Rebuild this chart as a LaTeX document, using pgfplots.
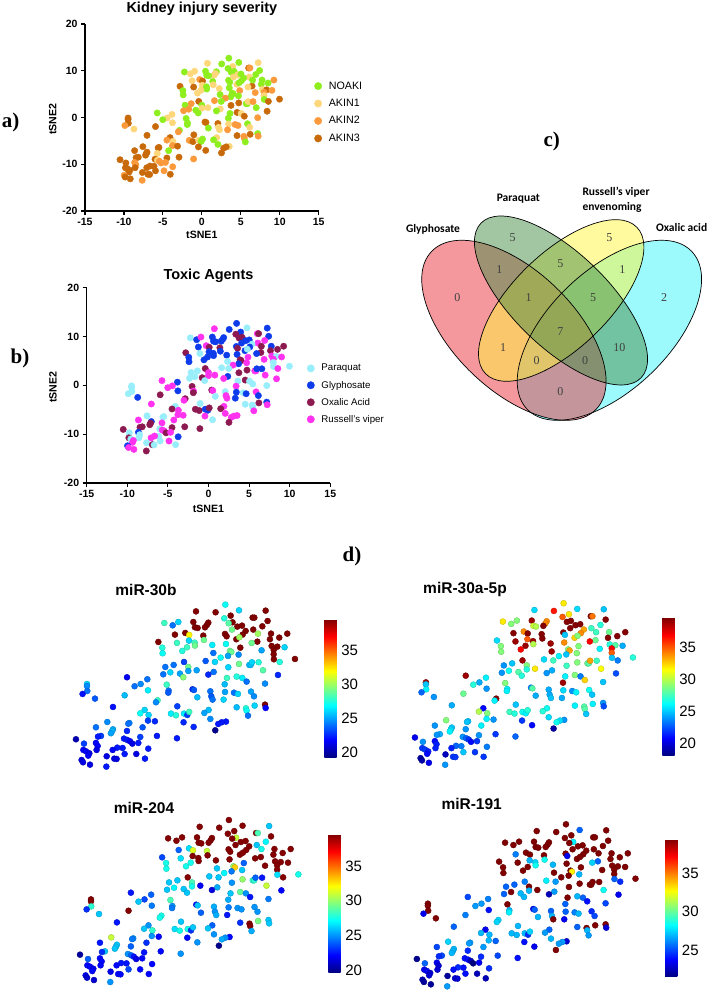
\documentclass[border=0pt]{standalone}
\usepackage{fontspec}
\usepackage{pgfplots}
\usepackage{pgfplotstable}
\pgfplotsset{compat=1.18}
\setmainfont{Liberation Sans}
\newfontfamily\tnr{Liberation Serif}
\newfontfamily\calibri{Carlito}
\definecolor{noaki}{RGB}{142,238,30}
\definecolor{akinone}{RGB}{253,215,122}
\definecolor{akintwo}{RGB}{251,154,60}
\definecolor{akinthree}{RGB}{200,106,10}
\definecolor{paraquat}{RGB}{152,238,250}
\definecolor{glypho}{RGB}{15,60,235}
\definecolor{oxalic}{RGB}{140,25,80}
\definecolor{russell}{RGB}{255,50,240}
\definecolor{vred}{RGB}{235,50,60}
\definecolor{vcyan}{RGB}{60,245,250}
\definecolor{vyellow}{RGB}{255,245,60}
\definecolor{vgreen}{RGB}{70,140,70}
% x y, kidney class, toxic agent class, then the four miRNA levels
\pgfplotstableread{
x y ak tox b30 a30 m204 m191
0.72 11.6 1 3 39.5 25.5 39.5 39.5
2.55 11.45 0 1 39.5 36.5 39.5 39.5
7.23 11.72 1 1 39.5 25 26 39.5
3.96 10.91 1 1 39.5 32 39.5 39.5
6.01 10.59 3 3 39.5 39.5 39.5 39.5
6.17 10.59 2 2 39.5 34.5 28.5 39.5
7.41 10.05 0 1 39.5 39.5 39.5 39.5
4.14 9.84 0 2 39.5 39.5 31 28
0.47 9.89 0 1 39.5 39 39.5 39.5
1.87 9.78 0 1 39.5 34 39.5 39.5
1.74 9.41 1 1 39.5 34 39.5 39.5
1.56 9.03 1 1 39.5 39.5 39.5 39.5
0.62 9.03 0 1 39.5 30.5 39.5 39.5
0.87 8.92 0 1 39.5 30 39.5 39.5
4.58 9.14 1 1 39.5 39.5 39.5 39.5
5.02 9.3 0 1 39.5 39.5 39.5 39.5
6.07 8.66 1 3 39.5 27.5 26 39.5
6.92 9.19 0 3 39.5 27 27 39.5
5.36 8.44 0 0 39.5 33.5 39.5 39.5
5.08 7.85 0 1 39.5 34 39.5 39.5
-1.25 7.85 1 1 39.5 39.5 24 26
-0.28 8.12 2 3 39.5 34 26.5 39.5
1.4 7.69 0 2 39.5 39.5 31 39.5
3.43 7.96 0 1 39.5 39.5 39.5 39.5
3.58 7.58 0 2 39.5 25 39.5 23.5
7.73 8.01 0 1 39.5 28.5 39.5 39.5
9.25 8.01 2 2 39.5 39.5 39.5 39.5
7.63 7.1 0 2 39.5 39.5 39.5 39.5
8.5 7.37 0 2 39.5 39.5 39.5 39.5
4.49 7.1 1 1 39.5 32.5 39.5 39.5
6.45 6.72 3 2 39.5 28.5 39.5 25.5
-2.8 6.67 3 2 39.5 25.5 23.5 39.5
4.86 5.75 2 3 39.5 29 24 39.5
7.79 6.02 1 3 39.5 27 39.5 39.5
8.32 5.91 3 0 39.5 28 39.5 39.5
7.98 5.38 2 3 39.5 37 39.5 39.5
7.98 4.68 1 0 39.5 35 39.5 39.5
8 3.87 0 0 39.5 25 26.5 25.5
9.97 3.92 3 0 39.5 27 27.5 39.5
7.17 -3.44 0 1 39.5 24 26 39.5
3.46 12.69 0 1 27 32 39.5 39.5
4.74 11.77 0 0 26 25.5 39.5 25.5
-2.24 9.73 0 0 28 32 39.5 39.5
-1.46 9.35 1 1 24 29 39.5 39.5
-0.93 9.89 1 3 26 29 39.5 39.5
3.36 10.48 0 2 27.5 35 39.5 39.5
3.77 9.68 0 2 28.5 39.5 39.5 39.5
4.08 8.66 1 1 29 39.5 39.5 39.5
6.51 8.01 0 2 30 27.5 27.5 39.5
0.09 7.8 3 2 32 39.5 31.5 39.5
4.77 7.42 0 0 30 29 39.5 39.5
0.06 6.88 1 1 26 35 39.5 27
1.46 6.99 1 1 29 39.5 39.5 28.5
-1.06 6.51 3 0 28 39 26.5 39.5
0.59 6.56 0 1 28 39 39.5 27.5
0.62 6.08 0 1 29 30 39.5 28.5
-0.12 5.81 1 1 28 39 27.5 39.5
-0.56 5.22 1 1 27.5 37 27.5 39.5
-2.43 5.75 0 1 27.5 29 27.5 39.5
-2.4 4.84 0 1 27 29 27.5 39.5
2.24 6.18 1 1 26.5 39 39.5 27
3.52 6.34 0 1 27 34 39.5 39.5
5.92 6.51 1 1 29 37 39.5 27.5
6.85 5.32 2 3 25 26 39.5 39.5
9 5.81 2 3 26 24.5 39.5 39.5
3.89 5.22 0 2 29 29 30 39.5
4.02 5.05 0 2 29 33.5 33 33
2.34 4.89 0 0 24 39 26 39.5
4.7 4.62 0 3 24.5 29 26 27
3.71 4.41 0 1 25 25 24.5 39.5
3.02 4.14 2 3 27 26 27 39.5
1.62 3.6 2 0 23.5 25.5 26 28
2.49 3.44 0 0 26 27.5 26 26.5
-0.4 3.44 3 2 23 39 39.5 26
-2.15 2.63 0 0 24 24 26 25.5
-1.37 2.96 2 0 24 25 26 25.5
0 2.63 0 3 29 29 28.5 39.5
0 1.99 1 3 25 27 27.5 27
3.74 2.58 3 2 26 27.5 25 39.5
4.74 3.12 3 2 29 29 30 39.5
5.7 2.96 0 3 25.5 28.5 28 39.5
5.83 2.96 0 3 25.5 28 28 39.5
5.95 3.39 1 1 26 33.5 24 39.5
6.57 3.39 2 1 27.5 27.5 22.5 39.5
6.98 2.1 0 3 28.5 31.5 31 28.5
8.54 3.44 3 3 27.5 23.5 39.5 24.5
-1.68 1.77 2 0 26 26.5 27 39.5
-2.34 1.45 2 0 24 24 26 25.5
-0.78 1.56 0 2 25 28 26 27
0.78 2.1 1 3 25 32 22 39.5
2.37 1.83 1 1 24 24.5 25.5 26.5
1.87 1.4 0 3 22.5 24 21.5 22.5
8.38 1.34 3 3 22.5 22.5 22 23.5
-0.47 0.97 0 0 29.5 27 26 27
3.61 0.86 0 0 28 26 26 39.5
4.52 1.08 3 2 27.5 29 29 27
5.05 0.86 1 0 26.5 23.5 25 25.5
5.45 0.27 3 0 24 32.5 22.5 24
7.17 -0.05 2 0 24.5 25 24.5 25
-5.73 0.97 0 3 21.5 39 22.5 25
-3.83 0.65 1 1 24 26 24 26
-4.45 -0.11 1 3 24.5 24.5 23.5 26.5
-5.02 -0.48 0 3 24 27 26 26.5
-3.77 -1.13 1 1 26.5 24 24.5 24
-2.02 -0.22 0 2 28 29 28.5 39.5
3.4 -0.16 0 3 25.5 39 25.5 25.5
-1.84 -1.18 0 3 24 26 25 27
-1.87 -1.51 0 2 23.5 26 24.5 28
0.4 -0.97 3 2 22.5 23.5 22.2 23.5
0.53 -1.08 3 3 23.5 28 26 25.5
2.06 -1.29 3 0 24 24.5 25.5 25.5
3.43 -1.4 1 1 25 25.5 24.5 25.5
4.27 -1.51 2 0 24 24 25 26
4.64 -1.72 2 1 26 26 25 27
5.86 -1.34 0 3 25 26.5 25 24.5
6.14 -2.1 1 1 24.5 25 25 25
2.15 -2.1 1 3 23.5 24.5 25 27
2.27 -2.63 1 3 24 25 25.5 39.5
0.84 -2.26 0 0 25.5 24.5 24 27
3.3 -2.63 2 1 26 24.5 22.5 23.5
-2.87 -2.74 0 2 28 39.5 27.5 27.5
-3.02 -3.06 2 3 24.5 26 27.5 27.5
-5.95 -1.94 3 2 25.5 28.5 39.5 26
-9.47 -0.11 3 0 26 39 39.5 39.5
-9.47 -0.43 3 0 24.5 25 39.5 39.5
-9.44 -1.24 3 0 24 26 28 39.5
-9.88 -1.72 2 0 22 23 23 23.5
-8.72 -2.47 1 1 23.5 24 26 39.5
-7.04 -3.82 3 3 22 24.5 22.5 25.5
-1.03 -3.71 3 0 23 25 26 27
4.52 -3.87 3 0 25.5 26 23 25.5
6.2 -3.6 3 2 26 26 29.5 39.5
5.39 -4.03 2 0 27.5 28 39.5 39.5
5.45 -4.41 2 0 27 28 39.5 27
7.23 -3.98 2 3 21.7 22.5 26 23
-4.08 -4.3 3 0 26 21 25 23.5
1.9 -4.3 1 3 25.5 26.5 24 25.5
1.5 -4.78 0 2 25 27 26 26.5
-4.49 -4.84 2 2 27 30 26 27
-3.71 -5.11 1 3 26 29 28 27
-1.62 -4.89 2 2 26.5 27.5 26.5 27
-1.15 -5.16 3 2 27.5 27 27.5 27
-0.4 -4.89 1 1 26.5 26.5 27.5 27
-0.09 -5.11 0 1 23 26 23 24.5
0.09 -4.62 0 2 28 27 26 27.5
2.06 -5.75 0 3 24.5 25.5 25 27
5.58 -5.22 0 3 24 25 25.5 26.5
-3.77 -6.02 2 3 23 26 25 27
-3.12 -6.13 3 3 22.5 24 22.2 25.5
-0.44 -6.29 3 3 22.5 22 22.2 24
-7.57 -6.24 3 0 24.5 29 31 27.5
-5.51 -6.4 3 0 24.5 25 25 26.5
-5.61 -6.51 3 0 24 25 24.5 26.5
3.52 -6.18 1 3 22.2 24 22.2 23
3.12 -6.29 3 3 22.2 25.5 25 26.5
2.8 -6.56 3 3 22.2 26.5 25.5 26.5
-8.63 -7.1 3 3 24 24 22.5 25
0.5 -7.04 3 0 22.5 21 25 23.5
-4.27 -7.1 0 3 23.5 26 23 26.5
-7.04 -7.42 3 1 25 25 26 27
-7.13 -7.74 3 2 25.5 25.5 26 27
-7.23 -8.06 3 2 25 26 26 27
-5.73 -7.69 1 3 22.5 24 24 24.5
2.52 -7.58 3 2 19.5 19 19.8 39.5
-8.16 -8.49 3 2 23 24.5 26 25
-8.44 -8.6 3 2 22.2 24 23 24.5
-4.49 -8.66 3 2 23 24 22.5 24.5
-2.93 -8.49 3 2 22.2 22 22.2 25
-6.01 -8.92 3 0 22.2 24 25 24
-5.7 -9.14 1 3 22.2 23 24 24
-5.45 -9.35 2 3 21.7 22 22.5 22.5
-5.23 -9.73 2 2 21.2 21 21.7 21.5
-4.67 -9.62 2 3 22.2 22 22.2 23.5
-1.06 -8.87 2 2 22.2 23 25 24
-10.5 -9.03 3 2 20.2 20.5 20.2 21.8
-9.75 -9.73 3 0 23 24 24 25.5
-8.63 -9.62 2 1 21.7 21 22.2 23.5
-8.47 -10.11 2 0 21.7 21.5 22.2 23
-6.14 -10.43 3 0 22.2 23.5 22.5 24
-6.64 -10.38 3 3 22.2 23 22.5 24.5
-7.07 -10.75 3 3 21.7 21.5 22.2 24
-3.74 -10.54 2 1 22.2 23.5 22.2 24.5
-8.57 -10.75 3 0 21.2 21.5 22.2 23
-9.81 -10.75 3 2 21.7 22 22.2 23.5
-9.56 -10.97 3 0 21.7 22 22.2 23.5
-9.25 -11.29 3 3 21.2 21.5 21.7 23
-9.35 -11.67 3 3 21.7 21 22.2 23
-5.95 -11.4 3 0 22.2 25 23.5 24
-4.86 -11.4 2 3 21.2 22 22.2 22.5
-7.63 -11.77 3 0 21.2 19.5 21.7 22
-6.92 -12.15 3 2 21.2 22 22.2 23
-6.7 -12.2 3 0 21.2 22 22.2 23
-4.05 -12.15 3 0 22.2 22 22.2 22.5
-9.97 -12.37 2 1 21.2 19 21.7 22.5
-9.84 -12.74 3 3 21.2 19 21.2 22
-9.19 -13.12 3 3 21.2 20.5 21.2 22
-7.66 -13.44 2 2 22.2 24 25 26.5
}\tsne
% Venn counts, placed in page pixels
\pgfplotstableread{
vx vy n
457.3 694.3 0
512.7 754.3 5
499.3 722.3 1
560.3 728.7 5
609.3 754.3 5
622.3 722.3 1
664 694.3 2
528.7 694.3 1
593 694.3 5
560.3 660.3 7
503 644.3 1
619.3 644.3 10
536.7 631.7 0
585 631.7 0
560.3 600.3 0
}\venn
\pgfplotsset{
  tsneaxis/.style={
    scale only axis, clip=false,
    xmin=-15, xmax=15, ymin=-20, ymax=20,
    xtick={-15,-10,-5,0,5,10,15}, ytick={-20,-10,0,10,20},
    axis x line=bottom, axis y line=left,
    axis line style={-, line width=1.3pt},
    tick align=outside, major tick length=4pt,
    tick style={black, line width=1.1pt},
    /pgf/number format/assume math mode=true,
    tick label style={font=\bfseries\fontsize{10.5}{12}\selectfont},
    xlabel={tSNE1}, ylabel={tSNE2},
    every axis title shift=0pt,
    every axis y label/.style={at={(axis description cs:-0.138,0.49)},rotate=90,anchor=center,
      font=\bfseries\fontsize{10.6}{12}\selectfont},
    legend cell align=left,
    legend image post style={scale=1.15},
  },
  heataxis/.style={
    scale only axis, hide axis, clip=false,
    xmin=-15, xmax=15, ymin=-20, ymax=20,
    colormap/jet, colorbar,
  },
  barstyle/.style={
    scale only axis, width=12.4pt,
    at={(parent axis.south west)}, anchor=south west,
    ytick style={draw=none}, major tick length=0pt,
    axis line style={draw=none},
    /pgf/number format/assume math mode=true,
    yticklabel style={font=\fontsize{15}{16}\selectfont, xshift=1pt},
  },
  heatmark/.style={scatter, only marks, mark=*, mark size=3pt, scatter src=explicit},
}
\begin{document}
\begin{tikzpicture}[x=1pt,y=1pt]
\useasboundingbox (0,0) rectangle (708,992);

% a) kidney injury
\begin{axis}[tsneaxis, at={(85pt,781pt)}, width=233.7pt, height=187pt,
  title={Kidney injury severity},
  title style={at={(0.5,1.08)},anchor=center,font=\bfseries\fontsize{14.5}{16}\selectfont},
  every axis x label/.style={at={(axis description cs:0.5,-0.128)},anchor=center,
    font=\bfseries\fontsize{10.6}{12}\selectfont},
  legend style={at={(0.981,0.528)},anchor=west,draw=none,fill=none,inner sep=0pt,
    font=\fontsize{10.7}{12}\selectfont,row sep=4.5pt,
    /tikz/every odd column/.append style={column sep=5pt}},
  scatter/classes={
    0={mark=*,mark size=3.2pt,draw=noaki,fill=noaki},
    1={mark=*,mark size=3.2pt,draw=akinone,fill=akinone},
    2={mark=*,mark size=3.2pt,draw=akintwo,fill=akintwo},
    3={mark=*,mark size=3.2pt,draw=akinthree,fill=akinthree}},
]
\addplot[scatter, only marks, scatter src=explicit symbolic] table[x=x,y=y,meta=ak] {\tsne};
\legend{NOAKI,AKIN1,AKIN2,AKIN3}
\end{axis}

% b) toxic agents
\begin{axis}[tsneaxis, at={(86.7pt,509pt)}, width=243.6pt, height=195.3pt,
  title={Toxic Agents},
  title style={at={(0.5,1.06)},anchor=center,font=\bfseries\fontsize{14.5}{16}\selectfont},
  every axis x label/.style={at={(axis description cs:0.5,-0.133)},anchor=center,
    font=\bfseries\fontsize{10.6}{12}\selectfont},
  legend style={at={(0.904,0.456)},anchor=west,draw=none,fill=none,inner sep=0pt,
    font=\fontsize{9.7}{11}\selectfont,row sep=4.5pt,
    /tikz/every odd column/.append style={column sep=5pt}},
  scatter/classes={
    0={mark=*,mark size=3.2pt,draw=paraquat,fill=paraquat},
    1={mark=*,mark size=3.2pt,draw=glypho,fill=glypho},
    2={mark=*,mark size=3.2pt,draw=oxalic,fill=oxalic},
    3={mark=*,mark size=3.2pt,draw=russell,fill=russell}},
]
\addplot[scatter, only marks, scatter src=explicit symbolic] table[x=x,y=y,meta=tox] {\tsne};
\legend{Paraquat,Glyphosate,Oxalic Acid,Russell's viper}
\end{axis}

% c) venn, axis units are page pixels
\begin{axis}[hide axis, scale only axis, clip=false, at={(370pt,492pt)}, width=338pt, height=400pt,
  xmin=370, xmax=708, ymin=492, ymax=892]
\fill[vcyan, opacity=0.5, rotate around={43.8:(axis cs:609.4,661.7)}] (axis cs:609.4,661.7) ellipse [x radius=114pt, y radius=60pt];
\fill[vred, opacity=0.5, rotate around={-43.8:(axis cs:513.9,661.7)}] (axis cs:513.9,661.7) ellipse [x radius=114pt, y radius=60pt];
\fill[vyellow, opacity=0.5, rotate around={44:(axis cs:561.2,691.5)}] (axis cs:561.2,691.5) ellipse [x radius=105.3pt, y radius=47.7pt];
\fill[vgreen, opacity=0.5, rotate around={-44:(axis cs:561,691.5)}] (axis cs:561,691.5) ellipse [x radius=111.3pt, y radius=47.3pt];
\draw[black, line width=0.7pt, rotate around={43.8:(axis cs:609.4,661.7)}] (axis cs:609.4,661.7) ellipse [x radius=114pt, y radius=60pt];
\draw[black, line width=0.7pt, rotate around={-43.8:(axis cs:513.9,661.7)}] (axis cs:513.9,661.7) ellipse [x radius=114pt, y radius=60pt];
\draw[black, line width=0.7pt, rotate around={44:(axis cs:561.2,691.5)}] (axis cs:561.2,691.5) ellipse [x radius=105.3pt, y radius=47.7pt];
\draw[black, line width=0.7pt, rotate around={-44:(axis cs:561,691.5)}] (axis cs:561,691.5) ellipse [x radius=111.3pt, y radius=47.3pt];
\addplot[only marks, mark=none, point meta=explicit symbolic,
  nodes near coords, nodes near coords align=center,
  every node near coord/.append style={font=\tnr\fontsize{12}{13}\selectfont, text=black!75, anchor=center, inner sep=0pt}]
  table[x=vx,y=vy,meta=n] {\venn};
\end{axis}

% d) miRNA levels
\begin{axis}[heataxis, at={(27.8pt,184.7pt)}, width=321pt, height=248pt,
  point meta min=19.2, point meta max=39.5,
  colorbar style={barstyle, height=138pt, ytick={20,25,30,35}, xshift=288pt, yshift=50pt}]
\addplot[heatmark] table[x=x,y=y,meta=b30] {\tsne};
\end{axis}
\begin{axis}[heataxis, at={(367pt,186.7pt)}, width=319.5pt, height=247.2pt,
  point meta min=18.2, point meta max=39.6,
  colorbar style={barstyle, height=137.3pt, ytick={20,25,30,35}, xshift=286.8pt, yshift=50pt}]
\addplot[heatmark] table[x=x,y=y,meta=a30] {\tsne};
\end{axis}
\begin{axis}[heataxis, at={(32pt,-30.7pt)}, width=320pt, height=248pt,
  point meta min=19.6, point meta max=39.6,
  colorbar style={barstyle, height=138.4pt, ytick={20,25,30,35}, xshift=287.8pt, yshift=50pt}]
\addplot[heatmark] table[x=x,y=y,meta=m204] {\tsne};
\end{axis}
\begin{axis}[heataxis, at={(368.8pt,-35pt)}, width=320.4pt, height=248pt,
  point meta min=21.5, point meta max=39.5,
  colorbar style={barstyle, height=138pt, ytick={25,30,35}, xshift=287.7pt, yshift=50pt}]
\addplot[heatmark] table[x=x,y=y,meta=m191] {\tsne};
\end{axis}

% panel letters and titles
\begin{scope}[every node/.style={inner sep=0pt}]
\node[font=\tnr\bfseries\fontsize{21}{23}\selectfont] at (10.5,992-122) {a)};
\node[font=\tnr\bfseries\fontsize{21}{23}\selectfont] at (20,992-358) {b)};
\node[font=\tnr\bfseries\fontsize{21}{23}\selectfont] at (551.7,992-141.7) {c)};
\node[font=\tnr\bfseries\fontsize{21}{23}\selectfont] at (352,992-556) {d)};
\node[font=\calibri\bfseries\fontsize{11.5}{13}\selectfont] at (433,992-229.3) {Glyphosate};
\node[font=\calibri\bfseries\fontsize{11.5}{13}\selectfont] at (518.3,992-198.3) {Paraquat};
\node[font=\calibri\bfseries\fontsize{11.5}{15}\selectfont,align=left,anchor=west] at (582.3,992-199.5) {Russell’s viper\\envenoming};
\node[font=\calibri\bfseries\fontsize{11.5}{13}\selectfont] at (681.7,992-227.3) {Oxalic acid};
\node[font=\bfseries\fontsize{15.5}{17}\selectfont] at (146,992-590) {miR-30b};
\node[font=\bfseries\fontsize{15.5}{17}\selectfont] at (465,992-589.3) {miR-30a-5p};
\node[font=\bfseries\fontsize{15.5}{17}\selectfont] at (144,992-808.3) {miR-204};
\node[font=\bfseries\fontsize{15.5}{17}\selectfont] at (471.7,992-804.3) {miR-191};
\end{scope}
\end{tikzpicture}
\end{document}
